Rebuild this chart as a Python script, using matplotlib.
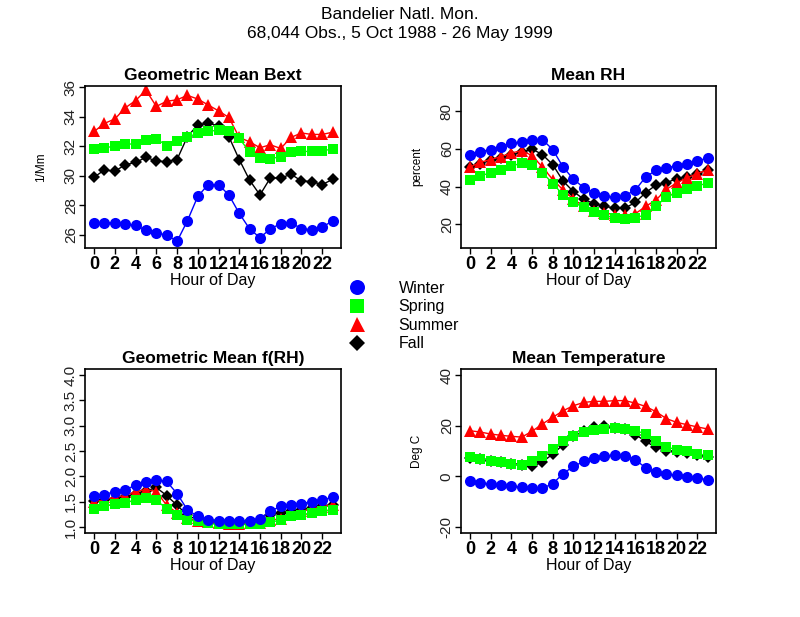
import matplotlib
matplotlib.use("Agg")
import matplotlib.pyplot as plt

plt.rcParams['font.family'] = ['Liberation Sans', 'DejaVu Sans']

hours = list(range(24))
hour_ticks = list(range(0, 23, 2))
seasons = ['Winter', 'Spring', 'Summer', 'Fall']

# Geometric mean Bext (1/Mm)
bext_winter = [26.83, 26.8, 26.83, 26.7, 26.65, 26.3, 26.1, 26.0, 25.55, 26.95, 28.6, 29.4,
               29.4, 28.7, 27.45, 26.4, 25.8, 26.4, 26.75, 26.83, 26.4, 26.35, 26.5, 26.95]
bext_spring = [31.78, 31.9, 32.0, 32.15, 32.15, 32.4, 32.5, 32.05, 32.35, 32.6, 32.9, 33.0,
               33.1, 33.0, 32.55, 31.6, 31.2, 31.15, 31.3, 31.6, 31.65, 31.65, 31.7, 31.8]
bext_summer = [33.0, 33.55, 33.85, 34.6, 35.1, 35.8, 34.7, 35.05, 35.15, 35.45, 35.2, 34.8,
               34.4, 33.95, 32.6, 32.3, 31.9, 32.1, 31.85, 32.6, 32.9, 32.8, 32.8, 32.95]
bext_fall = [29.9, 30.4, 30.3, 30.75, 30.9, 31.25, 31.0, 30.95, 31.1, 32.65, 33.45, 33.55,
             33.4, 32.65, 31.1, 29.7, 28.7, 29.85, 29.85, 30.1, 29.65, 29.6, 29.4, 29.75]

# Mean RH (percent)
rh_winter = [56.9, 58.6, 59.7, 61.2, 63.0, 63.8, 64.9, 64.9, 59.7, 50.4, 44.0, 39.5,
             36.5, 35.1, 34.4, 35.3, 38.3, 45.2, 48.7, 50.1, 51.0, 51.8, 53.6, 55.3]
rh_spring = [43.8, 45.7, 47.5, 49.0, 50.8, 52.7, 51.7, 47.5, 41.7, 35.7, 31.7, 29.0,
             26.4, 24.9, 23.5, 23.0, 23.5, 25.2, 29.9, 34.4, 36.9, 38.6, 40.3, 42.1]
rh_summer = [50.4, 53.0, 54.4, 56.0, 57.9, 59.1, 56.5, 50.4, 43.8, 38.3, 33.4, 29.6,
             27.0, 26.1, 25.2, 24.9, 25.7, 29.6, 33.0, 38.6, 42.1, 44.7, 47.0, 49.0]
rh_fall = [50.4, 52.2, 53.9, 55.1, 56.9, 58.3, 60.0, 57.0, 51.7, 43.0, 37.4, 33.4,
           31.0, 29.6, 28.7, 28.7, 31.7, 36.9, 40.9, 42.1, 44.3, 45.2, 47.0, 48.7]

# Geometric mean f(RH)
frh_winter = [1.61, 1.64, 1.70, 1.74, 1.82, 1.88, 1.93, 1.90, 1.66, 1.34, 1.21, 1.14,
              1.12, 1.11, 1.11, 1.12, 1.16, 1.31, 1.41, 1.43, 1.46, 1.50, 1.53, 1.59]
frh_spring = [1.36, 1.41, 1.46, 1.48, 1.53, 1.58, 1.53, 1.36, 1.24, 1.14, 1.11, 1.07,
              1.05, 1.05, 1.05, 1.05, 1.05, 1.09, 1.14, 1.21, 1.24, 1.28, 1.31, 1.34]
frh_summer = [1.50, 1.54, 1.59, 1.62, 1.70, 1.74, 1.70, 1.43, 1.28, 1.18, 1.11, 1.09,
              1.07, 1.06, 1.06, 1.07, 1.07, 1.14, 1.16, 1.26, 1.31, 1.36, 1.40, 1.44]
frh_fall = [1.51, 1.53, 1.56, 1.59, 1.66, 1.71, 1.78, 1.62, 1.43, 1.23, 1.14, 1.09,
            1.07, 1.07, 1.07, 1.09, 1.11, 1.24, 1.28, 1.31, 1.34, 1.38, 1.41, 1.44]

# Mean temperature (deg C)
temp_winter = [-2.0, -2.6, -3.0, -3.6, -3.9, -4.3, -4.7, -4.7, -2.9, 1.1, 3.9, 5.9,
               7.2, 8.2, 8.3, 7.9, 6.6, 3.3, 1.6, 0.9, 0.4, -0.3, -0.7, -1.3]
temp_spring = [7.6, 7.0, 6.2, 5.5, 4.9, 4.3, 5.9, 8.2, 10.9, 13.8, 15.8, 17.4,
               18.2, 18.8, 19.1, 18.8, 18.0, 16.8, 14.1, 11.6, 10.5, 9.9, 8.9, 8.3]
temp_summer = [18.0, 17.5, 16.7, 16.2, 15.8, 15.5, 17.8, 20.7, 23.3, 25.9, 27.9, 29.2,
               29.6, 29.6, 29.9, 29.9, 28.9, 27.6, 25.5, 22.8, 21.3, 20.4, 19.5, 18.7]
temp_fall = [7.3, 6.8, 6.0, 5.5, 5.0, 4.6, 3.9, 5.7, 8.8, 12.5, 15.8, 18.0,
             19.5, 19.7, 19.0, 18.5, 16.5, 13.8, 11.4, 10.2, 9.8, 9.2, 8.5, 7.7]

colors = {'Winter': '#0000ff', 'Spring': '#00ff00', 'Summer': '#ff0000', 'Fall': '#000000'}
markers = {'Winter': ('o', 8.0), 'Spring': ('s', 7.0), 'Summer': ('^', 8.0), 'Fall': ('D', 5.8)}

panels = [
    ('Geometric Mean Bext', '1/Mm', [bext_winter, bext_spring, bext_summer, bext_fall],
     (25.1, 36.1), [26, 28, 30, 32, 34, 36], ['26', '28', '30', '32', '34', '36'],
     [0.106, 0.598, 0.32, 0.263]),
    ('Mean RH', 'percent', [rh_winter, rh_spring, rh_summer, rh_fall],
     (7.5, 93.5), [20, 40, 60, 80], ['20', '40', '60', '80'],
     [0.576, 0.598, 0.319, 0.263]),
    ('Geometric Mean f(RH)', '', [frh_winter, frh_spring, frh_summer, frh_fall],
     (0.88, 4.12), [1.0, 1.5, 2.0, 2.5, 3.0, 3.5, 4.0],
     ['1.0', '1.5', '2.0', '2.5', '3.0', '3.5', '4.0'],
     [0.106, 0.136, 0.32, 0.266]),
    ('Mean Temperature', 'Deg C', [temp_winter, temp_spring, temp_summer, temp_fall],
     (-22.4, 42.4), [-20, 0, 20, 40], ['-20', '0', '20', '40'],
     [0.576, 0.136, 0.319, 0.266]),
]

fig = plt.figure(figsize=(8, 6.17), dpi=100)

fig.text(0.5, 0.976, 'Bandelier Natl. Mon.', ha='center', va='center', fontsize=12.5)
fig.text(0.5, 0.946, '68,044 Obs., 5 Oct 1988 - 26 May 1999', ha='center', va='center',
         fontsize=12.5)

for title, ylab, series, ylim, yticks, ylabels, rect in panels:
    ax = fig.add_axes(rect)
    # draw in reverse so winter ends up on top
    for name, vals in reversed(list(zip(seasons, series))):
        m, ms = markers[name]
        ax.plot(hours, vals, color=colors[name], lw=1, marker=m, markersize=ms,
                markeredgewidth=0)
    ax.set_xlim(-0.9, 23.8)
    ax.set_ylim(*ylim)
    ax.set_xticks(hour_ticks)
    ax.set_xticklabels([str(h) for h in hour_ticks], fontsize=13, fontweight='bold')
    ax.set_yticks(yticks)
    ax.set_yticklabels(ylabels, fontsize=11, rotation=90, va='center', color='#222222')
    ax.tick_params(axis='x', direction='out', length=4, width=1, pad=2)
    ax.tick_params(axis='y', direction='out', length=4, width=1, pad=1)
    ax.set_title(title, fontsize=12.5, fontweight='bold', pad=4)
    ax.set_xlabel('Hour of Day', fontsize=11.5, labelpad=0)
    if ylab:
        ax.set_ylabel(ylab, fontsize=8.5, labelpad=12)
    for sp in ax.spines.values():
        sp.set_linewidth(1.2)

# legend in the middle of the figure
handles = []
for name in seasons:
    m, ms = markers[name]
    h, = plt.plot([], [], linestyle='none', marker=m, markersize=ms * 1.35,
                  color=colors[name], markeredgewidth=0, label=name)
    handles.append(h)
fig.legend(handles=handles, loc='center', bbox_to_anchor=(0.5, 0.488), frameon=False,
           fontsize=11.5, handletextpad=1.6, labelspacing=0.22, borderpad=0)

fig.savefig('out.png', dpi=100)
